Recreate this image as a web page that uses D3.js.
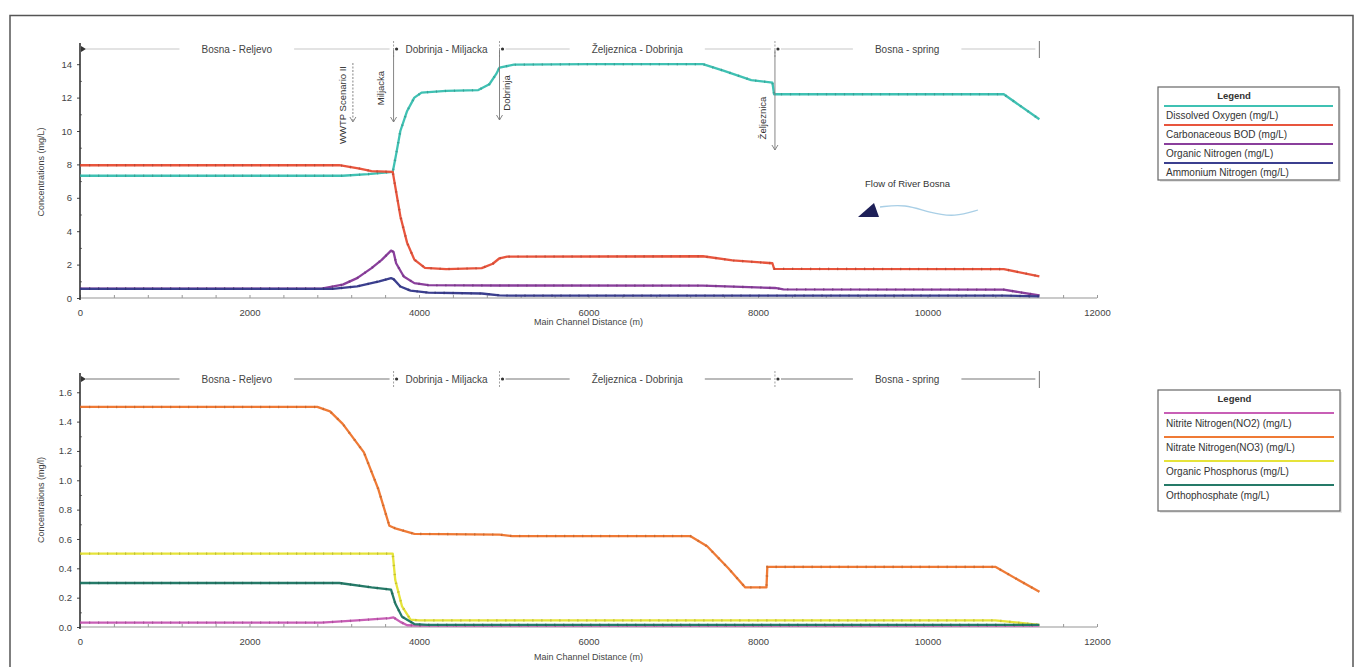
<!DOCTYPE html>
<html><head><meta charset="utf-8">
<script src="https://cdn.jsdelivr.net/npm/d3@7"></script>
<style>
body{margin:0;background:#fff;}
svg text{font-family:"Liberation Sans",Arial,sans-serif;}
</style>
</head><body>
<svg id="c" width="1363" height="667"></svg>
<script>
// ---------------- DATA ----------------
const xTicks = [0, 2000, 4000, 6000, 8000, 10000, 12000];
const yTicksTop = [0, 2, 4, 6, 8, 10, 12, 14];
const yTicksBottom = [0, 0.2, 0.4, 0.6, 0.8, 1.0, 1.2, 1.4, 1.6];

const sectionBounds = [0, 3700, 4950, 8200, 11320];
const sectionNames = ["Bosna - Reljevo", "Dobrinja - Miljacka", "Željeznica - Dobrinja", "Bosna - spring"];

const inflowNames = ["WWTP Scenario II", "Miljacka", "Dobrinja", "Željeznica"];
const inflowDist = [3220, 3700, 4950, 8200];

// top chart series [distance m, mg/L]
const dissolvedOxygen = [[0,7.32],[3100,7.32],[3400,7.42],[3690,7.55],[3730,8.6],[3780,10.0],[3860,11.2],[3945,12.0],[4030,12.3],[4320,12.4],[4700,12.45],[4830,12.8],[4910,13.4],[4950,13.8],[5120,13.97],[6000,14.0],[7350,14.0],[7600,13.6],[7920,13.05],[8170,12.9],[8190,12.2],[10900,12.2],[11320,10.7]];
const carbonaceousBOD = [[0,7.95],[3060,7.95],[3300,7.75],[3440,7.6],[3690,7.55],[3780,4.9],[3860,3.3],[3945,2.3],[4070,1.8],[4320,1.73],[4740,1.79],[4870,2.05],[4950,2.38],[5040,2.48],[7350,2.5],[7700,2.25],[8170,2.08],[8190,1.75],[10900,1.73],[11320,1.3]];
const organicNitrogen = [[0,0.56],[2850,0.56],[3100,0.8],[3270,1.19],[3440,1.79],[3560,2.28],[3670,2.84],[3700,2.75],[3730,2.08],[3820,1.29],[3945,0.89],[4110,0.77],[4950,0.75],[7350,0.74],[8200,0.6],[8300,0.52],[10900,0.5],[11320,0.15]];
const ammoniumNitrogen = [[0,0.55],[2980,0.55],[3270,0.69],[3530,0.99],[3670,1.19],[3700,1.13],[3780,0.69],[3900,0.44],[4110,0.32],[4740,0.27],[4950,0.16],[5100,0.14],[10900,0.14],[11320,0.1]];

// bottom chart series
const nitriteNitrogen = [[0,0.03],[2850,0.03],[3270,0.045],[3650,0.06],[3700,0.065],[3780,0.035],[3860,0.012],[4000,0.01],[11320,0.01]];
const nitrateNitrogen = [[0,1.5],[2800,1.5],[2950,1.47],[3100,1.385],[3350,1.19],[3520,0.94],[3650,0.69],[3730,0.67],[3945,0.635],[4950,0.63],[5100,0.62],[7200,0.62],[7400,0.55],[7650,0.4],[7850,0.27],[8100,0.27],[8110,0.41],[10800,0.41],[11320,0.24]];
const organicPhosphorus = [[0,0.5],[3690,0.5],[3720,0.32],[3800,0.14],[3900,0.05],[4000,0.045],[10800,0.045],[11320,0.015]];
const orthophosphate = [[0,0.3],[3060,0.3],[3440,0.27],[3670,0.255],[3720,0.16],[3800,0.07],[3945,0.02],[4100,0.015],[11320,0.015]];

const legendTop = ["Dissolved Oxygen (mg/L)", "Carbonaceous BOD (mg/L)", "Organic Nitrogen (mg/L)", "Ammonium Nitrogen (mg/L)"];
const legendBottom = ["Nitrite Nitrogen(NO2) (mg/L)", "Nitrate Nitrogen(NO3) (mg/L)", "Organic Phosphorus (mg/L)", "Orthophosphate (mg/L)"];

const colorsTop = ["#3fc1b3", "#e8553d", "#8a3f9c", "#3b3f8f"];
const colorsBottom = ["#c85fb6", "#ef7a35", "#e6e33a", "#257a68"];

// ---------------- DRAW ----------------
const svg = d3.select("#c");

svg.append("rect").attr("x",10).attr("y",15.5).attr("width",1343).attr("height",700)
  .attr("fill","none").attr("stroke","#555").attr("stroke-width",1.5);

const x = d3.scaleLinear().domain([0, 12000]).range([80, 1097]);

function drawChart(cfg) {
  const g = svg.append("g");
  const y = cfg.y;
  const y0 = y.range()[0];

  g.append("line").attr("x1", x(0)).attr("x2", x(12000)).attr("y1", y0).attr("y2", y0)
    .attr("stroke", "#b8b8b8").attr("stroke-width", 1.5);
  const xm = g.append("g").attr("transform", `translate(0,${y0})`)
    .call(d3.axisTop(x).tickValues(d3.range(0, 12001, 400)).tickSize(3).tickFormat(""));
  xm.select(".domain").remove();
  xm.selectAll("line").attr("stroke", "#999");
  const xa = g.append("g").attr("transform", `translate(0,${y0})`)
    .call(d3.axisBottom(x).tickValues(xTicks).tickSize(0).tickPadding(11).tickFormat(d3.format("d")));
  xa.select(".domain").remove();
  xa.selectAll("text").attr("font-size", 9.5).attr("fill", "#444");

  const ya = g.append("g").attr("transform", `translate(${x(0)},0)`)
    .call(d3.axisLeft(y).tickValues(cfg.yTicks).tickSize(3).tickPadding(5).tickFormat(cfg.fmt));
  ya.select(".domain").remove();
  ya.selectAll("line").attr("stroke", "#444");
  ya.selectAll("text").attr("font-size", 9.5).attr("fill", "#444");
  const ym = g.append("g").attr("transform", `translate(${x(0)},0)`)
    .call(d3.axisRight(y).tickValues(cfg.minor).tickSize(2).tickFormat(""));
  ym.select(".domain").remove();
  ym.selectAll("line").attr("stroke", "#777");
  g.append("line").attr("x1", x(0)).attr("x2", x(0)).attr("y1", y0 + 2).attr("y2", cfg.barY - 6)
    .attr("stroke", "#333").attr("stroke-width", 1.6);

  g.append("text").attr("x", (x(0) + x(12000)) / 2).attr("y", y0 + cfg.xTitleDy).attr("text-anchor", "middle")
    .attr("font-size", 9).attr("fill", "#444").text("Main Channel Distance (m)");
  g.append("text").attr("transform", `translate(44,${cfg.yTitleY}) rotate(-90)`).attr("text-anchor", "middle")
    .attr("font-size", 9).attr("fill", "#444").text(cfg.yTitle);

  const by = cfg.barY;
  const sb = g.append("g");
  sb.append("path").attr("d", `M${x(0)+1},${by-3}L${x(0)+6},${by}L${x(0)+1},${by+3}Z`).attr("fill", "#333");
  sectionNames.forEach((name, i) => {
    const a = x(sectionBounds[i]), b = x(sectionBounds[i + 1]);
    const c = (a + b) / 2;
    const t = sb.append("text").attr("x", c).attr("y", by + 3.5).attr("text-anchor", "middle")
      .attr("font-size", 10).attr("fill", "#444").text(name);
    const tw = t.node().getComputedTextLength();
    const gap = 22;
    if (c - tw / 2 - gap > a + 6) sb.append("line").attr("x1", a + 6).attr("x2", c - tw / 2 - gap)
      .attr("y1", by).attr("y2", by).attr("stroke", cfg.barColor).attr("stroke-width", 1.2);
    if (c + tw / 2 + gap < b - 4) sb.append("line").attr("x1", c + tw / 2 + gap).attr("x2", b - 4)
      .attr("y1", by).attr("y2", by).attr("stroke", cfg.barColor).attr("stroke-width", 1.2);
    if (i > 0) {
      sb.append("line").attr("x1", a).attr("x2", a).attr("y1", by - 8).attr("y2", by + 9)
        .attr("stroke", "#888").attr("stroke-dasharray", "2,1.5").attr("stroke-width", 0.8);
      sb.append("circle").attr("cx", a + 3).attr("cy", by).attr("r", 1.6).attr("fill", "#333");
    }
  });
  const xe = x(sectionBounds[sectionBounds.length - 1]);
  sb.append("line").attr("x1", xe).attr("x2", xe).attr("y1", by - 8).attr("y2", by + 9)
    .attr("stroke", "#777").attr("stroke-width", 1);

  const line = d3.line().x(d => x(d[0])).y(d => y(d[1]));
  cfg.series.forEach((s, i) => {
    g.append("path").datum(s).attr("d", line).attr("fill", "none")
      .attr("stroke", cfg.colors[i]).attr("stroke-width", 2.3).attr("stroke-linejoin", "round");
    g.append("path").datum(s).attr("d", line).attr("fill", "none")
      .attr("stroke", d3.color(cfg.colors[i]).darker(0.9)).attr("stroke-width", 2.6)
      .attr("stroke-dasharray", "1.2,7.8").attr("opacity", 0.55);
  });

  const L = cfg.legend;
  const lg = g.append("g");
  lg.append("rect").attr("x", L.x + 2).attr("y", L.y + 2).attr("width", L.w).attr("height", L.h).attr("fill", "#e6e6e6");
  lg.append("rect").attr("x", L.x).attr("y", L.y).attr("width", L.w).attr("height", L.h)
    .attr("fill", "#fff").attr("stroke", "#666").attr("stroke-width", 1.2);
  lg.append("text").attr("x", L.x + L.w * 0.42).attr("y", L.y + 12).attr("text-anchor", "middle")
    .attr("font-size", 9.5).attr("font-weight", "bold").attr("fill", "#333").text("Legend");
  cfg.legendNames.forEach((n, i) => {
    const ly = L.y + L.first + i * L.step;
    lg.append("line").attr("x1", L.x + 6).attr("x2", L.x + L.w - 6).attr("y1", ly).attr("y2", ly)
      .attr("stroke", cfg.colors[i]).attr("stroke-width", 2);
    lg.append("text").attr("x", L.x + 8).attr("y", ly + L.textDy).attr("font-size", 10).attr("fill", "#333").text(n);
  });
  return { g, y };
}

const yTop = d3.scaleLinear().domain([0, 15]).range([298, 47.5]);
const topChart = drawChart({
  y: yTop, yTicks: yTicksTop, minor: d3.range(1, 15, 2), fmt: d3.format("d"),
  yTitle: "Concentrations (mg/L)", yTitleY: 172, barY: 49, barColor: "#c8c8c8", xTitleDy: 27,
  series: [dissolvedOxygen, carbonaceousBOD, organicNitrogen, ammoniumNitrogen],
  colors: colorsTop, legendNames: legendTop,
  legend: { x: 1158, y: 87, w: 181, h: 93, first: 19, step: 19, textDy: 13 }
});

const yBot = d3.scaleLinear().domain([0, 1.7]).range([627, 377.6]);
const bottomChart = drawChart({
  y: yBot, yTicks: yTicksBottom, minor: d3.range(0.1, 1.7, 0.2), fmt: d3.format(".1f"),
  yTitle: "Concentrations (mg/l)", yTitleY: 500, barY: 379, barColor: "#777", xTitleDy: 33,
  series: [nitriteNitrogen, nitrateNitrogen, organicPhosphorus, orthophosphate],
  colors: colorsBottom, legendNames: legendBottom,
  legend: { x: 1158, y: 390, w: 182, h: 121, first: 23, step: 24, textDy: 14 }
});

// inflow annotations (top chart)
const ann = svg.append("g");
const annText = [[343, 105], [381, 88], [507, 93], [763, 118]];
const annArrow = [[63, 122], [50, 122], [50, 120], [50, 150]];
inflowNames.forEach((n, i) => {
  const ax = x(inflowDist[i]);
  ann.append("line").attr("x1", ax).attr("x2", ax).attr("y1", annArrow[i][0]).attr("y2", annArrow[i][1])
    .attr("stroke", "#777").attr("stroke-width", 0.9).attr("stroke-dasharray", i === 0 ? "2,1.5" : null);
  const ay = annArrow[i][1];
  ann.append("path").attr("d", `M${ax - 3},${ay - 5}L${ax},${ay}L${ax + 3},${ay - 5}`)
    .attr("fill", "none").attr("stroke", "#777").attr("stroke-width", 0.9);
  ann.append("text").attr("transform", `translate(${annText[i][0] + 3},${annText[i][1]}) rotate(-90)`)
    .attr("text-anchor", "middle").attr("font-size", 9.5).attr("fill", "#333").text(n);
});

// flow of river annotation
const fl = svg.append("g");
fl.append("text").attr("x", 865).attr("y", 187).attr("font-size", 9.5).attr("fill", "#333").text("Flow of River Bosna");
fl.append("path").attr("d", "M858,217L879,217L874,203Z").attr("fill", "#1e2058");
const wave = [[880, 207], [905, 204], [930, 213], [955, 217], [978, 210]];
fl.append("path").datum(wave).attr("d", d3.line().curve(d3.curveBasis)).attr("fill", "none")
  .attr("stroke", "#a9cfe6").attr("stroke-width", 1.3);
</script>
</body></html>
